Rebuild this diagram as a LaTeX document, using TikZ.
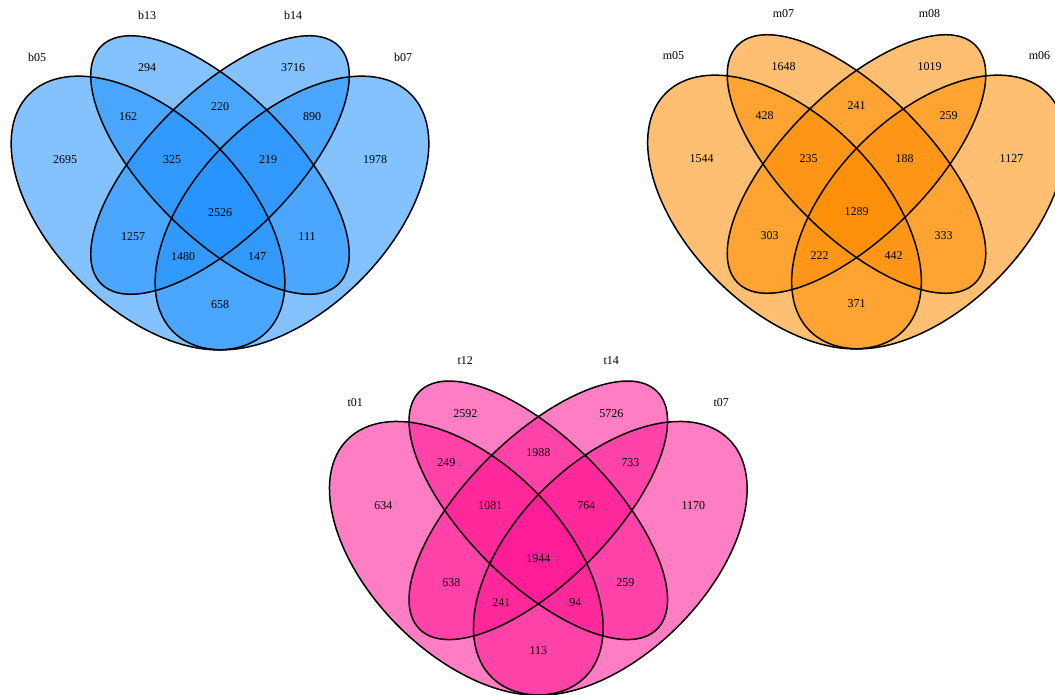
\documentclass[tikz,border=0pt]{standalone}
\usepackage{fontspec}
\setmainfont{Liberation Serif}
\definecolor{vblue}{RGB}{30,144,255}
\definecolor{vorange}{RGB}{255,140,0}
\definecolor{vpink}{RGB}{255,20,147}
\tikzset{
  vfill/.style={fill=#1, fill opacity=0.55},
  vline/.style={draw=black, line width=1.5pt},
  vtxt/.style={font=\fontsize{12}{14}\selectfont, inner sep=0pt, text=black}
}
% #1 shift, #2 colour, #3 texts (19, fixed order), #4 name prefix
\newcommand\vennfour[4]{%
  \begin{scope}[shift={#1}]
    \foreach \cx/\cy/\rb/\ang in {-72/-48/96/-45, 0/0/72/-45, 0/0/72/45, 72/-48/96/45}{
      \fill[vfill=#2, rotate around={\ang:(\cx,\cy)}] (\cx,\cy) ellipse [x radius=168, y radius=\rb];
    }
    \foreach \cx/\cy/\rb/\ang in {-72/-48/96/-45, 0/0/72/-45, 0/0/72/45, 72/-48/96/45}{
      \draw[vline, rotate around={\ang:(\cx,\cy)}] (\cx,\cy) ellipse [x radius=168, y radius=\rb];
    }
    \foreach \t [count=\i] in {#3}{
      \pgfmathsetmacro\px{{-183,-73,73,183,-155,-73,73,155,-92,0,92,-48,48,0,-87,87,-37,37,0}[\i-1]}
      \pgfmathsetmacro\py{{108,150,150,108,5,97,97,5,48,58,48,5,5,-48,-72,-72,-92,-92,-140}[\i-1]}
      \node[vtxt] (#4-\i) at (\px,\py) {\t};
    }
  \end{scope}
}
\begin{document}
\begin{tikzpicture}[x=1pt,y=1pt]
  \useasboundingbox (0,0) rectangle (1055,-695);
  \clip (0,0) rectangle (1055,-695);
  \fill[white] (0,0) rectangle (1055,-695);
  \vennfour{(220,-165)}{vblue}{b05,b13,b14,b07,2695,294,3716,1978,162,220,890,325,219,2526,1257,111,1480,147,658}{b}
  \vennfour{(856.5,-164)}{vorange}{m05,m07,m08,m06,1544,1648,1019,1127,428,241,259,235,188,1289,303,333,222,442,371}{m}
  \vennfour{(538.3,-510.3)}{vpink}{t01,t12,t14,t07,634,2592,5726,1170,249,1988,733,1081,764,1944,638,259,241,94,113}{t}
\end{tikzpicture}
\end{document}
